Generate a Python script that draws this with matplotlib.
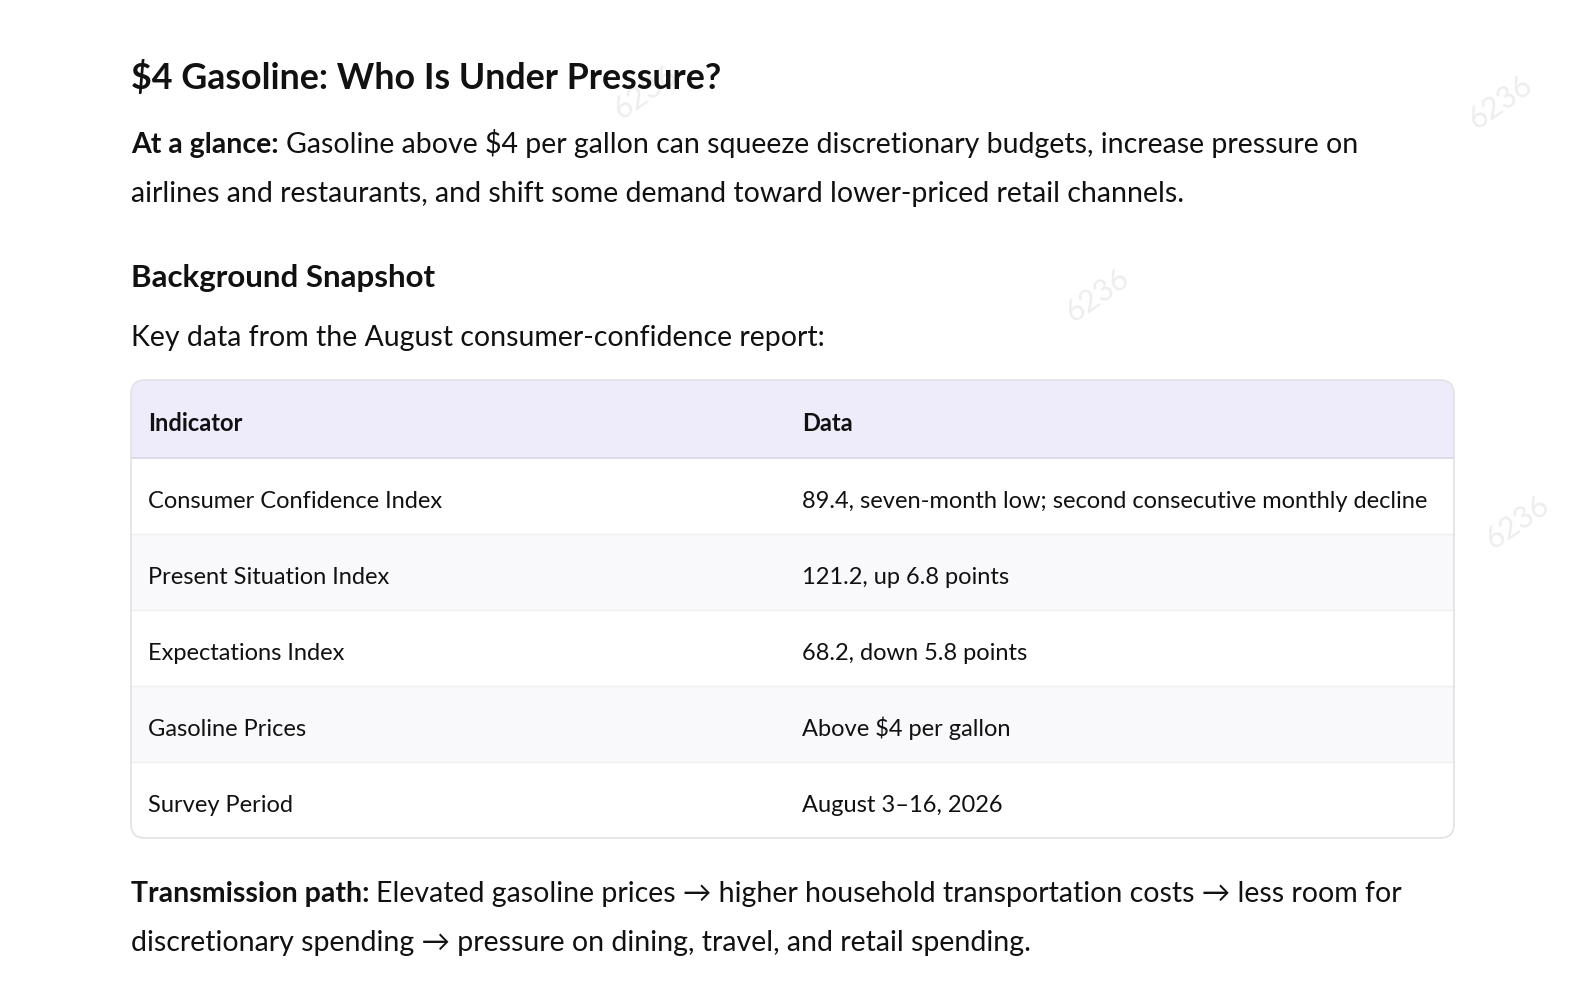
import matplotlib
matplotlib.use("Agg")
import matplotlib.pyplot as plt
from matplotlib.patches import FancyBboxPatch, Rectangle

# content
title = "$4 Gasoline: Who Is Under Pressure?"
glance_label = "At a glance:"
glance_lines = ["Gasoline above $4 per gallon can squeeze discretionary budgets, increase pressure on",
                "airlines and restaurants, and shift some demand toward lower-priced retail channels."]
section = "Background Snapshot"
intro = "Key data from the August consumer-confidence report:"
headers = ["Indicator", "Data"]
indicators = ["Consumer Confidence Index", "Present Situation Index", "Expectations Index",
              "Gasoline Prices", "Survey Period"]
data_values = ["89.4, seven-month low; second consecutive monthly decline",
               "121.2, up 6.8 points", "68.2, down 5.8 points",
               "Above $4 per gallon", "August 3\u201316, 2026"]
path_label = "Transmission path:"
path_lines = ["Elevated gasoline prices \u2192 higher household transportation costs \u2192 less room for",
              "discretionary spending \u2192 pressure on dining, travel, and retail spending."]
watermark = "6236"

FONT = ["Lato", "DejaVu Sans"]
plt.rcParams["font.family"] = FONT
plt.rcParams["text.parse_math"] = False

W, H = 1579, 996
fig = plt.figure(figsize=(W / 100, H / 100), dpi=100)
ax = fig.add_axes([0, 0, 1, 1])
ax.set_xlim(0, W)
ax.set_ylim(H, 0)
ax.axis("off")
fig.patch.set_facecolor("white")

ink = "#111111"
renderer = fig.canvas.get_renderer()


def width_of(s, size, weight="normal"):
    t = ax.text(0, 0, s, fontsize=size, fontweight=weight)
    w = t.get_window_extent(renderer).width
    t.remove()
    return w


def fit(s, target, weight="normal"):
    return 20 * target / width_of(s, 20, weight)


# sizes fitted to the widths seen in the reference
title_fs = fit(title, 591, "bold")
body_fs = fit(glance_lines[1], 1187 - 131)
section_fs = fit(section, 304, "bold")
table_fs = fit(indicators[0], 295)


def rich(x, y, label, lines, size, gap=49):
    t = ax.text(x, y, label + " ", fontsize=size, fontweight="bold", color=ink, va="baseline")
    x2 = x + t.get_window_extent(renderer).width
    ax.text(x2, y, lines[0], fontsize=size, color=ink, va="baseline")
    for i, ln in enumerate(lines[1:], 1):
        ax.text(x, y + gap * i, ln, fontsize=size, color=ink, va="baseline")


# watermarks
for wx, wy in [(645, 92), (1500, 102), (1097, 295), (662, 517), (1517, 522), (1112, 732)]:
    ax.text(wx, wy, watermark, fontsize=22, color="#dcdcdc", alpha=0.5, rotation=35,
            ha="center", va="center", zorder=0)

ax.text(131, 89, title, fontsize=title_fs, fontweight="bold", color=ink, va="baseline")
rich(131, 153, glance_label, glance_lines, body_fs)
ax.text(131, 287, section, fontsize=section_fs, fontweight="bold", color=ink, va="baseline")
ax.text(131, 346, intro, fontsize=body_fs, color=ink, va="baseline")

# table
tx0, tx1, ty0 = 131, 1454, 380
head_h, row_h = 78, 76
ty1 = ty0 + head_h + row_h * len(indicators)
frame = FancyBboxPatch((tx0, ty0), tx1 - tx0, ty1 - ty0,
                       boxstyle="round,pad=0,rounding_size=14",
                       facecolor="white", edgecolor="none", zorder=1)
ax.add_patch(frame)
hdr = Rectangle((tx0, ty0), tx1 - tx0, head_h, facecolor="#eeebfb", edgecolor="none", zorder=1.5)
hdr.set_clip_path(frame)
ax.add_patch(hdr)
ax.plot([tx0, tx1], [ty0 + head_h] * 2, color="#d9d6e8", lw=1.2, zorder=2)
for i in range(len(indicators)):
    ry = ty0 + head_h + row_h * i
    if i % 2 == 1:
        band = Rectangle((tx0, ry), tx1 - tx0, row_h, facecolor="#f9f9fb", edgecolor="none", zorder=1.5)
        band.set_clip_path(frame)
        ax.add_patch(band)
    if i > 0:
        ax.plot([tx0, tx1], [ry, ry], color="#efeff2", lw=1, zorder=2)

col_x = [148, 802]
for hx, htxt in zip(col_x, headers):
    ax.text(hx, ty0 + head_h / 2 + 12, htxt, fontsize=table_fs, fontweight="bold", color=ink,
            va="baseline", zorder=3)
for i, (ind, val) in enumerate(zip(indicators, data_values)):
    cy = ty0 + head_h + row_h * i + row_h / 2 + 12
    ax.text(col_x[0], cy, ind, fontsize=table_fs, color=ink, va="baseline", zorder=3)
    ax.text(col_x[1], cy, val, fontsize=table_fs, color=ink, va="baseline", zorder=3)
ax.add_patch(FancyBboxPatch((tx0, ty0), tx1 - tx0, ty1 - ty0,
                            boxstyle="round,pad=0,rounding_size=14",
                            facecolor="none", edgecolor="#e2e2e6", linewidth=1.2, zorder=4))

rich(131, 902, path_label, path_lines, body_fs)

fig.savefig("out.png", dpi=100, facecolor="white")
